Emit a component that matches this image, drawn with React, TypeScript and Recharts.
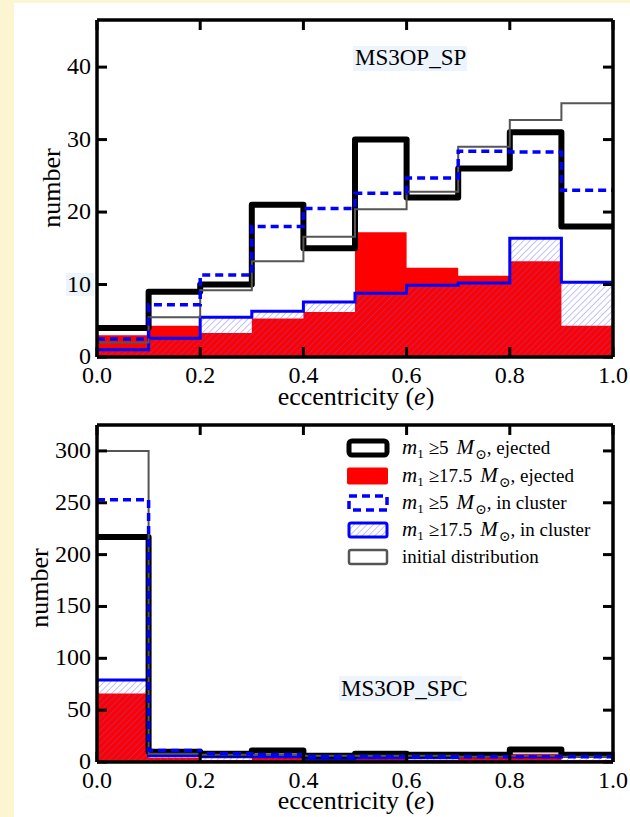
import { ComposedChart, Line, Area, XAxis, YAxis } from 'recharts';

// bin edges for eccentricity (10 bins of width 0.1)
const binEdges = [0, 0.1, 0.2, 0.3, 0.4, 0.5, 0.6, 0.7, 0.8, 0.9, 1.0];
const xTicks = [0, 0.2, 0.4, 0.6, 0.8, 1.0];

// MS3OP_SP panel
const spEjected5 = [4, 9, 10, 21, 15, 30, 22, 26, 31, 18];
const spEjected175 = [3, 4.3, 3.3, 5.3, 6.2, 17.2, 12.3, 11.2, 13.2, 4.3];
const spCluster5 = [2.5, 7.2, 11.3, 18, 20.5, 22.6, 24.7, 28.4, 28.3, 23];
const spCluster175 = [1, 2.6, 5.5, 6.3, 7.6, 8.8, 9.9, 10.2, 16.4, 10.3];
const spInitial = [2, 5.5, 9.2, 13.2, 16.6, 20.4, 22.8, 29, 32.7, 35];
const spYTicks = [0, 10, 20, 30, 40];

// MS3OP_SPC panel
const spcEjected5 = [217, 10, 8, 11, 6, 8, 7, 7, 12, 7];
const spcEjected175 = [66, 4, 2, 6, 2, 3, 2, 4, 8, 2];
const spcCluster5 = [253, 11, 8, 7, 5, 5, 5, 5, 5, 5];
const spcCluster175 = [79, 6, 5, 5, 3, 4, 4, 5, 5, 6];
const spcInitial = [300, 8, 7, 7, 6, 6, 6, 5, 6, 5];
const spcYTicks = [0, 50, 100, 150, 200, 250, 300];

const FONT = '"Liberation Serif", "DejaVu Serif", serif';
const BLUE = '#0000ff';
const RED = '#ff0000';
const GRAY = '#555555';

function stepRows(series: Record<string, number[]>) {
  return binEdges.map((e, i) => {
    const row: Record<string, number> = { e };
    Object.entries(series).forEach(([k, v]) => {
      row[k] = v[Math.min(i, v.length - 1)];
    });
    return row;
  });
}

const BottomTick = (p: any) => (
  <g>
    <line x1={p.x} y1={p.y} x2={p.x} y2={p.y - 10} stroke="#000" strokeWidth={3} />
    <text x={p.x} y={p.y + 26} textAnchor="middle" fontSize={24} fontFamily={FONT} fill="#000">
      {Number(p.payload.value).toFixed(1)}
    </text>
  </g>
);
const TopTick = (p: any) => <line x1={p.x} y1={p.y} x2={p.x} y2={p.y + 10} stroke="#000" strokeWidth={3} />;
const LeftTick = (p: any) => (
  <g>
    <line x1={p.x} y1={p.y} x2={p.x + 10} y2={p.y} stroke="#000" strokeWidth={3} />
    <text x={p.x - 6} y={p.y + 7} textAnchor="end" fontSize={24} fontFamily={FONT} fill="#000">
      {p.payload.value}
    </text>
  </g>
);
const RightTick = (p: any) => <line x1={p.x} y1={p.y} x2={p.x - 10} y2={p.y} stroke="#000" strokeWidth={3} />;

const axisLine = { stroke: '#000', strokeWidth: 3.5 };

type PanelProps = {
  data: Record<string, number>[];
  yMax: number;
  yTicks: number[];
  hatch: string;
  height: number;
  top: number;
  bottom: number;
};

function Panel({ data, yMax, yTicks, hatch, height, top, bottom }: PanelProps) {
  return (
    <ComposedChart width={630} height={height} data={data} margin={{ top: 0, right: 0, bottom: 0, left: 0 }}>
      <XAxis xAxisId="b" dataKey="e" type="number" domain={[0, 1]} ticks={xTicks} interval={0} height={bottom}
        tickSize={0} tickMargin={0} tickLine={false} axisLine={axisLine} tick={BottomTick} allowDataOverflow />
      <XAxis xAxisId="t" orientation="top" dataKey="e" type="number" domain={[0, 1]} ticks={xTicks} interval={0} height={top}
        tickSize={0} tickMargin={0} tickLine={false} axisLine={axisLine} tick={TopTick} allowDataOverflow />
      <YAxis yAxisId="l" type="number" domain={[0, yMax]} ticks={yTicks} interval={0} width={97}
        tickSize={0} tickMargin={0} tickLine={false} axisLine={axisLine} tick={LeftTick} allowDataOverflow />
      <YAxis yAxisId="r" orientation="right" type="number" domain={[0, yMax]} ticks={yTicks} interval={0} width={17}
        tickSize={0} tickMargin={0} tickLine={false} axisLine={axisLine} tick={RightTick} allowDataOverflow />
      <Area xAxisId="b" yAxisId="l" type="stepAfter" dataKey="ej175" fill={RED} fillOpacity={1} stroke="none" isAnimationActive={false} />
      <Area xAxisId="b" yAxisId="l" type="stepAfter" dataKey="cl175" fill={`url(#${hatch})`} fillOpacity={1} stroke={BLUE} strokeWidth={3} isAnimationActive={false} />
      <Line xAxisId="b" yAxisId="l" type="stepAfter" dataKey="ej5" stroke="#000" strokeWidth={6} strokeLinejoin="round" dot={false} activeDot={false} isAnimationActive={false} />
      <Line xAxisId="b" yAxisId="l" type="stepAfter" dataKey="init" stroke={GRAY} strokeWidth={2} dot={false} activeDot={false} isAnimationActive={false} />
      <Line xAxisId="b" yAxisId="l" type="stepAfter" dataKey="cl5" stroke={BLUE} strokeWidth={3.5} strokeDasharray="8 5" dot={false} activeDot={false} isAnimationActive={false} />
    </ComposedChart>
  );
}

const legendRows = [
  { lo: '5', tail: ', ejected', kind: 'black' },
  { lo: '17.5', tail: ', ejected', kind: 'red' },
  { lo: '5', tail: ', in cluster', kind: 'dash' },
  { lo: '17.5', tail: ', in cluster', kind: 'hatch' },
];

function Swatch({ kind, y }: { kind: string; y: number }) {
  if (kind === 'black') return <rect x={349} y={y - 7} width={38} height={14} rx={3} fill="#fff" stroke="#000" strokeWidth={5} />;
  if (kind === 'red') return <rect x={347} y={y - 8.5} width={41} height={17} rx={2} fill={RED} />;
  if (kind === 'dash') return <rect x={349} y={y - 7} width={38} height={14} fill="none" stroke={BLUE} strokeWidth={3.5} strokeDasharray="8 5" />;
  if (kind === 'hatch') return <rect x={349} y={y - 7} width={38} height={14} rx={2} fill="url(#hatchLeg)" stroke={BLUE} strokeWidth={3} />;
  return <rect x={349} y={y - 7} width={38} height={14} rx={2} fill="#fff" stroke={GRAY} strokeWidth={2.5} />;
}

function HatchDef({ id }: { id: string }) {
  return (
    <pattern id={id} patternUnits="userSpaceOnUse" width={4.5} height={4.5} patternTransform="rotate(45)">
      <line x1={0} y1={0} x2={0} y2={4.5} stroke="#5b5bff" strokeWidth={1} strokeOpacity={0.75} />
    </pattern>
  );
}

export default function App() {
  const spData = stepRows({ ej5: spEjected5, ej175: spEjected175, cl5: spCluster5, cl175: spCluster175, init: spInitial });
  const spcData = stepRows({ ej5: spcEjected5, ej175: spcEjected175, cl5: spcCluster5, cl175: spcCluster175, init: spcInitial });
  const rowY = [448, 476, 503, 530, 557];

  return (
    <div style={{ position: 'absolute', left: 0, top: 0, width: 630, height: 817, overflow: 'hidden', fontFamily: FONT }}>
      <svg width={630} height={817} style={{ position: 'absolute', left: 0, top: 0 }}>
        <defs>
          <HatchDef id="hatchTop" />
          <HatchDef id="hatchBot" />
          <HatchDef id="hatchLeg" />
        </defs>
        <rect x={0} y={0} width={630} height={817} fill="#fcf5d2" />
        <rect x={14} y={3} width={616} height={814} fill="#fff" />
        <rect x={66} y={273} width={28} height={23} fill="#edf4fb" />
        <rect x={353} y={46} width={114} height={25} fill="#edf4fb" />
        <rect x={339} y={676} width={123} height={25} fill="#edf4fb" />
      </svg>
      <div style={{ position: 'absolute', left: 0, top: 0 }}>
        <Panel data={spData} yMax={46.5} yTicks={spYTicks} hatch="hatchTop" height={410} top={20} bottom={53} />
      </div>
      <div style={{ position: 'absolute', left: 0, top: 410 }}>
        <Panel data={spcData} yMax={325} yTicks={spcYTicks} hatch="hatchBot" height={407} top={15} bottom={55} />
      </div>
      <svg width={630} height={817} style={{ position: 'absolute', left: 0, top: 0, pointerEvents: 'none' }}
        fontFamily={FONT} fill="#000">
        <text x={355} y={65} fontSize={23}>MS3OP_SP</text>
        <text x={341} y={696} fontSize={23}>MS3OP_SPC</text>
        <text x={356} y={405} fontSize={26} textAnchor="middle">
          eccentricity (<tspan fontStyle="italic">e</tspan>)
        </text>
        <text x={356} y={809} fontSize={26} textAnchor="middle">
          eccentricity (<tspan fontStyle="italic">e</tspan>)
        </text>
        <text transform="translate(60,188) rotate(-90)" fontSize={26} textAnchor="middle">number</text>
        <text transform="translate(48,588) rotate(-90)" fontSize={26} textAnchor="middle">number</text>
        {legendRows.map((r, i) => (
          <g key={i}>
            <Swatch kind={r.kind} y={rowY[i]} />
            <text x={402} y={rowY[i] + 6} fontSize={19}>
              <tspan fontStyle="italic" fontSize={21}>m</tspan>
              <tspan fontSize={13} dy={4}>1</tspan>
              <tspan dy={-4} dx={5}>≥{r.lo}</tspan>
              <tspan fontStyle="italic" fontSize={21} dx={8}>M</tspan>
              <tspan fontSize={14} dy={5} dx={1}>⊙</tspan>
              <tspan dy={-5}>{r.tail}</tspan>
            </text>
          </g>
        ))}
        <Swatch kind="gray" y={rowY[4]} />
        <text x={402} y={rowY[4] + 6} fontSize={19}>initial distribution</text>
      </svg>
    </div>
  );
}
